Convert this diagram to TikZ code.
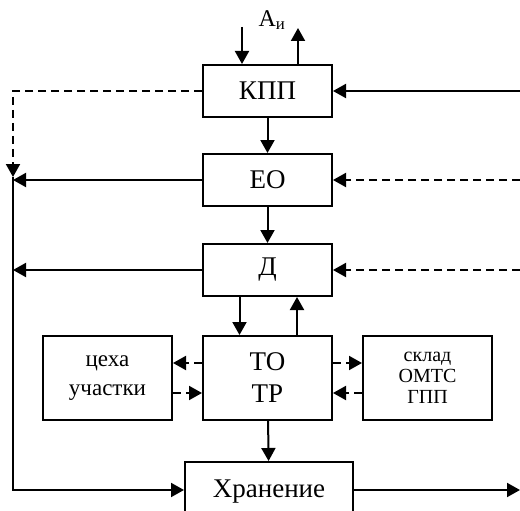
\documentclass[tikz,border=0pt]{standalone}
\usepackage{fontspec}
\setmainfont{Liberation Serif}
\usetikzlibrary{arrows.meta}

\begin{document}
\begin{tikzpicture}[x=1pt, y=-1pt,
    block/.style={draw, line width=2pt, rectangle, minimum width=129pt, minimum height=52pt, inner sep=0pt, font=\fontsize{27}{29}\selectfont},
    arr/.style={-{Triangle[length=13pt,width=14pt]}, line width=2pt},
    darr/.style={arr, dash pattern=on 8pt off 5pt}]

    \clip (0,0) rectangle (520,511);

    % Draw the main chain
    \node[block] (kpp) at (267.5, 91) {КПП};
    \node[block] (eo) at (267.5, 180) {ЕО};
    \node[block] (d) at (267.5, 270) {Д};
    \node[block, minimum height=84pt, align=center] (totr) at (267.5, 378) {ТО\\[3pt]ТР};
    \node[block, minimum width=168pt, minimum height=60pt] (hran) at (269, 492) {Хранение};

    % Draw the side blocks
    \node[block, minimum height=84pt, align=center, font=\fontsize{23}{29}\selectfont] (tseha) at (107.5, 378) {цеха\\участки};
    \node[block, minimum height=84pt, align=center, font=\fontsize{20}{21}\selectfont] (sklad) at (427.5, 378) {склад\\ОМТС\\ГПП};

    % Free ends of the outer lines
    \coordinate (ain) at (242, 27);
    \coordinate (aout) at (298, 28);
    \coordinate (rkpp) at (520, 91);
    \coordinate (reo) at (520, 180);
    \coordinate (rd) at (520, 270);
    \coordinate (rout) at (520, 490);
    \coordinate (ltop) at (13, 91);
    \coordinate (lmid) at (13, 177);
    \coordinate (lbot) at (13, 490);

    % Input and output of КПП
    \draw[arr] (ain) -- (ain |- kpp.north);
    \draw[arr] (aout |- kpp.north) -- (aout);
    \node[font=\fontsize{24}{26}\selectfont] (ai) at (272, 20) {А\textsubscript{и}};

    % Draw connections along the chain
    \draw[arr] (kpp) -- (eo);
    \draw[arr] (eo) -- (d);
    \draw[arr] ([xshift=-28pt]d.south) -- ([xshift=-28pt]totr.north);
    \draw[arr] ([xshift=29.5pt]totr.north) -- ([xshift=29.5pt]d.south);
    \draw[arr] (totr) -- (hran);

    % Links to the side blocks
    \draw[darr] ([yshift=15pt]totr.west) -- ([yshift=15pt]tseha.east);
    \draw[darr] ([yshift=-15pt]tseha.east) -- ([yshift=-15pt]totr.west);
    \draw[darr] ([yshift=15pt]totr.east) -- ([yshift=15pt]sklad.west);
    \draw[darr] ([yshift=-15pt]sklad.west) -- ([yshift=-15pt]totr.east);

    % Inputs from the right
    \draw[arr] (rkpp) -- (kpp.east);
    \draw[darr] (reo) -- (eo.east);
    \draw[darr] (rd) -- (d.east);

    % Feedback on the left
    \draw[darr] (kpp.west) -- (ltop) -- (lmid);
    \draw[arr] (eo.west) -- (eo.west -| lmid);
    \draw[arr] (d.west) -- (d.west -| lmid);
    \draw[arr] (lmid) -- (lbot) -- (lbot -| hran.west);
    \draw[arr] (rout -| hran.east) -- (rout);

\end{tikzpicture}
\end{document}
